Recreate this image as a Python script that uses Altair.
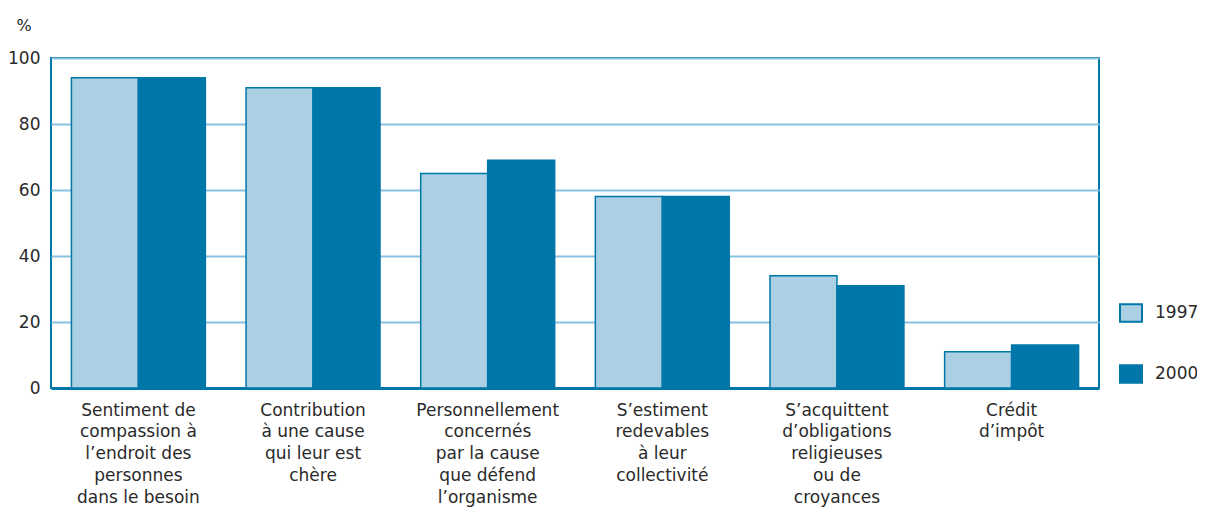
import altair as alt
import pandas as pd

categories = [
    "Sentiment de|compassion à|l’endroit des|personnes|dans le besoin",
    "Contribution|à une cause|qui leur est|chère",
    "Personnellement|concernés|par la cause|que défend|l’organisme",
    "S’estiment|redevables|à leur|collectivité",
    "S’acquittent|d’obligations|religieuses|ou de|croyances",
    "Crédit|d’impôt",
]
years = ["1997", "2000"]
values_1997 = [94, 91, 65, 58, 34, 11]
values_2000 = [94, 91, 69, 58, 31, 13]
y_ticks = [0, 20, 40, 60, 80, 100]

rows = []
for c, a, b in zip(categories, values_1997, values_2000):
    rows.append({"cat": c, "year": years[0], "value": a})
    rows.append({"cat": c, "year": years[1], "value": b})
df = pd.DataFrame(rows)

FONT = "DejaVu Sans"
BLUE = "#0077a9"
LIGHT = "#abd0e3"
GRID = "#88c2df"
TEXT = "#2a2a2a"

chart = (
    alt.Chart(df)
    .mark_bar(stroke=BLUE, strokeWidth=1.5)
    .encode(
        x=alt.X(
            "cat:N",
            sort=categories,
            scale=alt.Scale(paddingInner=0.233, paddingOuter=0.117),
            axis=alt.Axis(
                title=None,
                labelAngle=0,
                labelExpr="split(datum.label, '|')",
                labelFont=FONT,
                labelFontSize=17,
                labelColor=TEXT,
                labelLineHeight=21.8,
                labelBaseline="top",
                labelPadding=14,
                ticks=False,
                domainColor=BLUE,
                domainWidth=3,
                grid=False,
                labelLimit=400,
            ),
        ),
        xOffset=alt.XOffset("year:N", sort=years, scale=alt.Scale(paddingInner=0, paddingOuter=0)),
        y=alt.Y(
            "value:Q",
            scale=alt.Scale(domain=[0, 100], nice=False),
            axis=alt.Axis(
                values=y_ticks,
                title="%",
                titleAngle=0,
                titleX=-35,
                titleY=-33,
                titleAlign="left",
                titleBaseline="middle",
                titleFont=FONT,
                titleFontSize=16,
                titleFontWeight="normal",
                titleColor=TEXT,
                labelFont=FONT,
                labelFontSize=17,
                labelColor=TEXT,
                labelPadding=11,
                ticks=False,
                domain=False,
                grid=True,
                gridColor=GRID,
                gridWidth=2,
            ),
        ),
        fill=alt.Fill(
            "year:N",
            sort=years,
            scale=alt.Scale(domain=years, range=[LIGHT, BLUE]),
            legend=alt.Legend(
                title=None,
                orient="none",
                legendX=1068,
                legendY=243,
                symbolType="M-1,-0.8L1,-0.8L1,0.8L-1,0.8Z",
                symbolSize=484,
                symbolStrokeColor=BLUE,
                symbolStrokeWidth=2,
                labelFont=FONT,
                labelFontSize=17,
                labelColor=TEXT,
                labelOffset=12,
                rowPadding=35,
            ),
        ),
    )
    .properties(
        width=1048,
        height=330,
        autosize=alt.AutoSizeParams(type="none"),
        padding={"left": 43, "top": 50, "right": 98, "bottom": 124},
    )
    .configure_view(stroke=BLUE, strokeWidth=2)
)

chart.save("out.html", embed_options={"renderer": "svg", "actions": False})
